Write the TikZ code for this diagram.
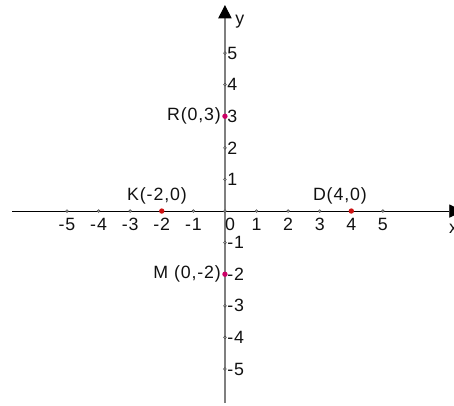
\documentclass[tikz,border=0pt]{standalone}
\usepackage{fontspec}
\setmainfont{Liberation Sans}[LetterSpace=5]
\usepackage{tikz}
\usetikzlibrary{arrows.meta}
\definecolor{ptred}{HTML}{CC1111}
\definecolor{ptmag}{HTML}{CC0066}
\definecolor{axgray}{HTML}{7F7F7F}
\definecolor{txtdark}{HTML}{111111}

\begin{document}
\begin{tikzpicture}[x=1cm, y=1cm,
  tickdot/.style={circle, draw=black!75, fill=black!35, line width=0.4pt, inner sep=0pt, minimum size=0.09cm},
  ptdot/.style={circle, fill=#1, inner sep=0pt, minimum size=0.17cm},
  lbl/.style={font=\fontsize{16}{18}\selectfont, text=txtdark, inner sep=0pt},
  axarrow/.style={-{Triangle[length=0.42cm, width=0.42cm, color=black]}}]
\useasboundingbox (-7.12,-6.14) rectangle (7.25,6.68);
% axes
\coordinate (xstart) at (-6.74,0);
\coordinate (xend) at (7.52,0);
\coordinate (ystart) at (0,-6.08);
\coordinate (yend) at (0,6.52);
\draw[black, line width=0.8pt, axarrow] (xstart) -- (xend);
\draw[axgray, line width=1.1pt, axarrow] (ystart) -- (yend);
\node[lbl] (xname) at (7.24,-0.55) {x};
\node[lbl] (yname) at (0.47,6.0) {y};
% ticks and numbers
\node[tickdot] (orig) at (0,0) {};
\node[lbl] (zero) at (0.16,-0.42) {0};
\foreach \k in {-5,...,-1,1,2,...,5} {
  \node[tickdot] (tx\k) at (\k,0) {};
  \node[tickdot] (ty\k) at (0,\k) {};
}
\foreach \k in {-5,...,-1,1,2,3,5} {
  \node[lbl] (nx\k) at (\k,-0.42) {\k};
}
\node[lbl] (nx4) at (4,-0.42) {4};
\foreach \k in {-5,...,-1,1,2,...,5} {
  \node[lbl, anchor=west] (ny\k) at (0.07,\k) {\k};
}
% points
\node[ptdot=ptred] (K) at (-2,0) {};
\node[ptdot=ptred] (D) at (4,0) {};
\node[ptdot=ptmag] (R) at (0,3) {};
\node[ptdot=ptmag] (M) at (0,-2) {};
\node[lbl] (lblK) at (-2.15,0.47) {K(-2,0)};
\node[lbl] (lblD) at (3.64,0.47) {D(4,0)};
\node[lbl, anchor=east] (lblR) at (-0.12,3) {R(0,3)};
\node[lbl, anchor=east] (lblM) at (-0.12,-2) {M (0,-2)};
\end{tikzpicture}
\end{document}
